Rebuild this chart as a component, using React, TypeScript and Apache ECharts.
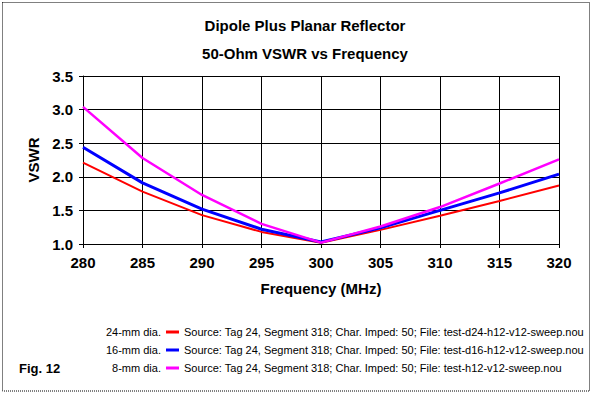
import React, { useEffect, useRef } from "react";
import * as echarts from "echarts";

const titleLines = ["Dipole Plus Planar Reflector", "50-Ohm VSWR vs Frequency"];
const frequencies = [280, 285, 290, 295, 300, 305, 310, 315, 320];
const vswr24 = [2.21, 1.78, 1.43, 1.18, 1.02, 1.21, 1.42, 1.64, 1.87];
const vswr16 = [2.44, 1.91, 1.52, 1.22, 1.03, 1.24, 1.5, 1.76, 2.04];
const vswr8 = [3.04, 2.28, 1.73, 1.3, 1.02, 1.26, 1.55, 1.9, 2.26];
const seriesNames = [
  "Source: Tag 24, Segment 318; Char. Imped: 50; File: test-d24-h12-v12-sweep.nou",
  "Source: Tag 24, Segment 318; Char. Imped: 50; File: test-d16-h12-v12-sweep.nou",
  "Source: Tag 24, Segment 318; Char. Imped: 50; File: test-h12-v12-sweep.nou",
];
const diameterLabels = ["24-mm dia.", "16-mm dia.", "8-mm dia."];
const seriesColors = ["#ff0000", "#0000ff", "#ff00ff"];
const seriesWidths = [2, 3, 2.5];
const figLabel = "Fig. 12";
const xAxisName = "Frequency (MHz)";
const yAxisName = "VSWR";

const FONT = "'Liberation Sans', Arial, sans-serif";

export default function App() {
  const ref = useRef<HTMLDivElement>(null);
  useEffect(() => {
    if (!ref.current) return;
    const chart = echarts.init(ref.current, undefined, { renderer: "svg" });
    const allValues = [vswr24, vswr16, vswr8];
    const rowCenters = [332, 350, 368];
    const option: any = {
      animation: false,
      backgroundColor: "#ffffff",
      textStyle: { fontFamily: FONT },
      title: titleLines.map((t, i) => ({
        text: t,
        left: 300,
        textAlign: "center",
        top: 13 + i * 28,
        textStyle: { fontFamily: FONT, fontSize: 15, fontWeight: "bold", color: "#000" },
      })),
      grid: { left: 83, right: 33, top: 76, bottom: 150, containLabel: false },
      xAxis: {
        type: "value",
        min: 280,
        max: 320,
        interval: 5,
        name: xAxisName,
        nameLocation: "middle",
        nameGap: 37,
        nameTextStyle: { fontFamily: FONT, fontSize: 15, fontWeight: "bold", color: "#000" },
        axisLine: { show: true, lineStyle: { color: "#000", width: 1 } },
        axisTick: { show: true, length: 4, lineStyle: { color: "#000" } },
        axisLabel: { fontFamily: FONT, fontSize: 15, fontWeight: "bold", color: "#000", margin: 11 },
        splitLine: { show: true, lineStyle: { color: "#000", width: 1 } },
      },
      yAxis: {
        type: "value",
        min: 1,
        max: 3.5,
        interval: 0.5,
        name: yAxisName,
        nameLocation: "middle",
        nameGap: 42,
        nameRotate: 90,
        nameTextStyle: { fontFamily: FONT, fontSize: 15, fontWeight: "bold", color: "#000" },
        axisLine: { show: true, lineStyle: { color: "#000", width: 1 } },
        axisTick: { show: true, length: 4, lineStyle: { color: "#000" } },
        axisLabel: {
          fontFamily: FONT,
          fontSize: 15,
          fontWeight: "bold",
          color: "#000",
          margin: 10,
          formatter: (v: number) => v.toFixed(1),
        },
        splitLine: { show: true, lineStyle: { color: "#000", width: 1 } },
      },
      legend: seriesNames.map((n, i) => ({
        data: [n],
        left: 166,
        top: rowCenters[i] - 7,
        padding: 0,
        icon: "rect",
        itemWidth: 13,
        itemHeight: 3,
        itemGap: 5,
        selectedMode: false,
        textStyle: { fontFamily: FONT, fontSize: 11, color: "#000", lineHeight: 14, padding: [0, 0, 0, 0] },
      })),
      series: seriesNames.map((n, i) => ({
        name: n,
        type: "line",
        data: frequencies.map((f, j) => [f, allValues[i][j]]),
        showSymbol: false,
        symbol: "none",
        lineStyle: { color: seriesColors[i], width: seriesWidths[i] },
        itemStyle: { color: seriesColors[i] },
        z: 3 + i,
      })),
      graphic: [
        {
          type: "rect",
          shape: { x: 2.5, y: 2.5, width: 587, height: 388.5 },
          style: { fill: "none", stroke: "#000", lineWidth: 1, lineDash: [1, 1] },
          silent: true,
        },
        ...diameterLabels.map((d, i) => ({
          type: "text",
          x: 161,
          y: rowCenters[i],
          style: {
            text: d,
            fontFamily: FONT,
            fontSize: 11,
            fill: "#000",
            textAlign: "right",
            textVerticalAlign: "middle",
          },
        })),
        {
          type: "text",
          x: 19,
          y: 368,
          style: {
            text: figLabel,
            fontFamily: FONT,
            fontSize: 13,
            fontWeight: "bold",
            fill: "#000",
            textAlign: "left",
            textVerticalAlign: "middle",
          },
        },
      ],
    };
    chart.setOption(option);
    return () => chart.dispose();
  }, []);
  return (
    <div
      ref={ref}
      style={{ position: "fixed", left: 0, top: 0, width: 592, height: 394, background: "#fff" }}
    />
  );
}
